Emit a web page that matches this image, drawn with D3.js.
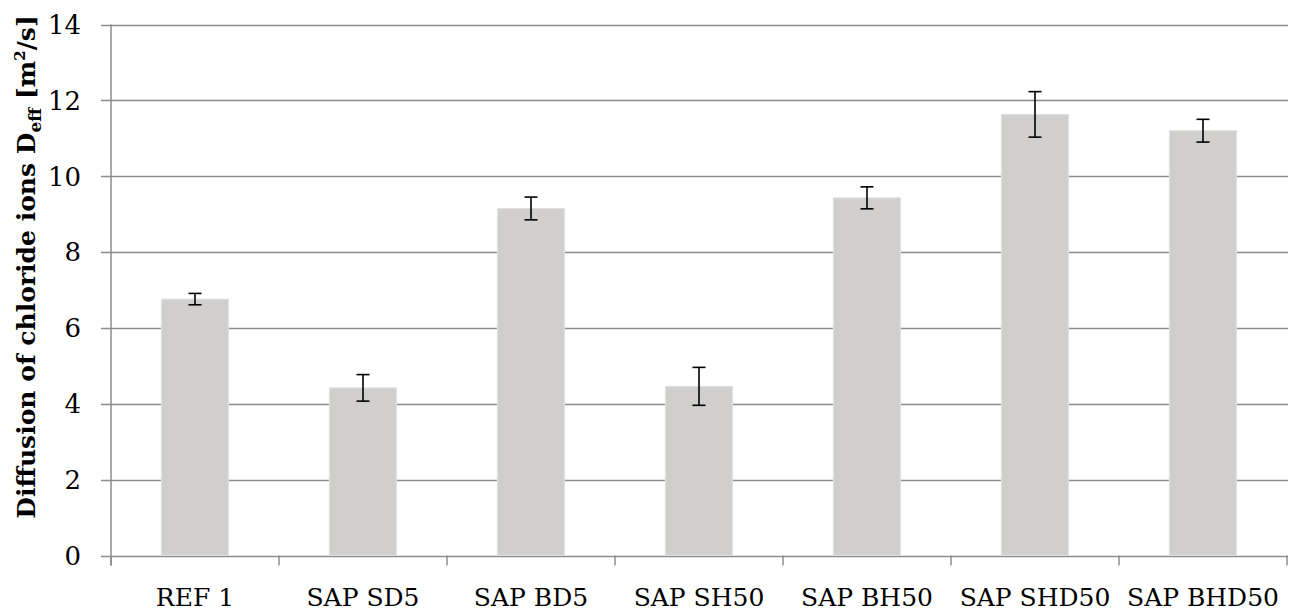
<!DOCTYPE html>
<html><head><meta charset="utf-8">
<script src="https://cdn.jsdelivr.net/npm/d3@7"></script>
<style>body{margin:0;background:#fff}svg{display:block}</style>
</head><body>
<svg id="c" width="1291" height="612"></svg>
<script>
const categories = ["REF 1","SAP SD5","SAP BD5","SAP SH50","SAP BH50","SAP SHD50","SAP BHD50"];
const values = [6.76, 4.42, 9.15, 4.46, 9.43, 11.63, 11.2];
const errors = [0.15, 0.35, 0.30, 0.50, 0.29, 0.60, 0.30];
const yTicks = [0,2,4,6,8,10,12,14];

const font = "'DejaVu Serif', serif";
const svg = d3.select("#c");
const L = 111, R = 1287, T = 24.5, B = 555.5;
const x = d3.scaleBand().domain(categories).range([L, R]).paddingInner(0.6).paddingOuter(0.3);
const y = d3.scaleLinear().domain([0,14]).range([B, T]);

// gridlines
svg.append("g").selectAll("line").data(yTicks).join("line")
  .attr("x1", L-10).attr("x2", R+1).attr("y1", d=>Math.round(y(d))+0.5).attr("y2", d=>Math.round(y(d))+0.5)
  .attr("stroke", "#8c8c8c").attr("stroke-width", 1.5);

// bars
svg.append("g").selectAll("rect").data(categories).join("rect")
  .attr("x", d=>x(d)).attr("width", x.bandwidth())
  .attr("y", (d,i)=>y(values[i])).attr("height", (d,i)=>B - y(values[i]))
  .attr("fill", "#d0cfcd").attr("stroke", "#e2e1df").attr("stroke-width", 1);

// y axis line
svg.append("line").attr("x1", L).attr("x2", L).attr("y1", T).attr("y2", B+10)
  .attr("stroke", "#8c8c8c").attr("stroke-width", 1.5);

// x ticks at band boundaries
const bounds = d3.range(categories.length+1).map(i => L + i*(R-L)/categories.length);
svg.append("g").selectAll("line").data(bounds).join("line")
  .attr("x1", d=>d).attr("x2", d=>d).attr("y1", B).attr("y2", B+10)
  .attr("stroke", "#8c8c8c").attr("stroke-width", 1.5);

// error bars
const eb = svg.append("g").attr("stroke", "#000").attr("stroke-width", 1.6);
categories.forEach((c,i)=>{
  const cx = x(c) + x.bandwidth()/2;
  const y1 = y(values[i]+errors[i]), y2 = y(values[i]-errors[i]);
  eb.append("line").attr("x1", cx).attr("x2", cx).attr("y1", y1).attr("y2", y2);
  eb.append("line").attr("x1", cx-6.5).attr("x2", cx+6.5).attr("y1", y1).attr("y2", y1);
  eb.append("line").attr("x1", cx-6.5).attr("x2", cx+6.5).attr("y1", y2).attr("y2", y2);
});

// y tick labels
svg.append("g").selectAll("text").data(yTicks).join("text")
  .attr("x", L-30).attr("y", d=>y(d)).attr("dy", "0.36em").attr("text-anchor", "end")
  .attr("font-family", font).attr("font-size", 26).attr("fill", "#000").text(d=>d);

// x labels
svg.append("g").selectAll("text").data(categories).join("text")
  .attr("x", d=>x(d)+x.bandwidth()/2).attr("y", 606).attr("text-anchor", "middle")
  .attr("font-family", font).attr("font-size", 25).attr("fill", "#000").text(d=>d);

// y title
const t = svg.append("text").attr("transform", "translate(35,267) rotate(-90)")
  .attr("text-anchor", "middle").attr("font-family", font).attr("font-size", 25).attr("font-weight", "bold");
t.append("tspan").text("Diffusion of chloride ions D");
t.append("tspan").attr("font-size", 17).attr("dy", 6).text("eff");
t.append("tspan").attr("dy", -6).text(" [m");
t.append("tspan").attr("font-size", 15).attr("dy", -10).text("2");
t.append("tspan").attr("dy", 10).text("/s]");
</script>
</body></html>
